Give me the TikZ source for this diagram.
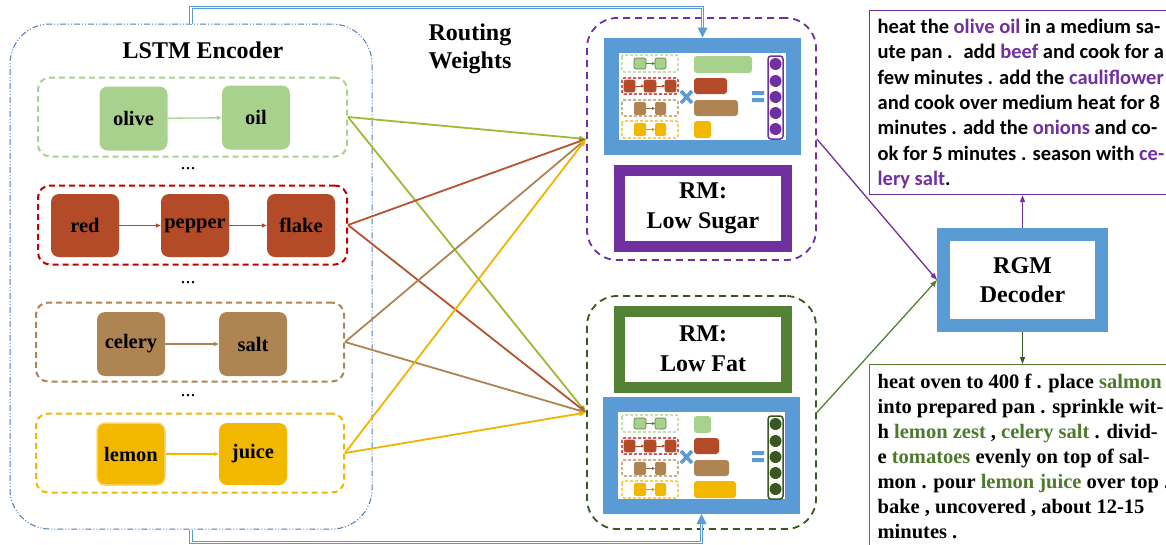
\documentclass[tikz,border=0pt]{standalone}
\usepackage{fontspec}
\setmainfont{Liberation Serif}
\newfontfamily\calibri{Carlito}
\usepackage{tikz}
\usetikzlibrary{arrows.meta,calc,positioning}

\definecolor{oilgreen}{HTML}{A9D18E}
\definecolor{pepperrust}{HTML}{B34B28}
\definecolor{pepperred}{HTML}{C00000}
\definecolor{celerytan}{HTML}{AE8453}
\definecolor{lemongold}{HTML}{F2B800}
\definecolor{linegreen}{HTML}{9DBA35}
\definecolor{linerust}{HTML}{B55230}
\definecolor{linegold}{HTML}{F0B400}
\definecolor{purp}{HTML}{7030A0}
\definecolor{fatgreen}{HTML}{548235}
\definecolor{darkgreen}{HTML}{385723}
\definecolor{txtgreen}{HTML}{4F7A2E}
\definecolor{rmblue}{HTML}{5B9BD5}
\definecolor{encblue}{HTML}{4E7AAE}

\tikzset{
  word/.style={rounded corners=8pt, minimum width=68, minimum height=64, inner sep=0,
    font=\fontsize{20.5}{24}\selectfont\bfseries},
  group/.style={draw, dash pattern=on 6pt off 4pt, line width=2, rounded corners=12pt,
    minimum width=309, minimum height=79},
  feed/.style={-{Triangle[length=5pt,width=4pt]}, line width=1.3},
  route/.style={-{Triangle[length=7pt,width=5pt]}, line width=1.8},
  module/.style={draw, dash pattern=on 7pt off 5pt, line width=1.8, rounded corners=30pt,
    minimum width=229},
  bluebox/.style={draw=rmblue, line width=15, fill=white, minimum width=182, minimum height=102},
  rmbox/.style={line width=11, fill=white, minimum width=167, minimum height=76, align=center,
    font=\fontsize{24}{30}\selectfont\bfseries},
  dbl/.style={draw=rmblue, double=white, double distance=1.5pt, line width=0.8},
  recipe/.style={draw, line width=1.3, anchor=north west, align=left, inner xsep=8, inner ysep=0},
  minirow/.style={dash pattern=on 3pt off 2pt, line width=1.2, rounded corners=2pt},
  miniword/.style={rounded corners=2pt, line width=0.6},
  minifeed/.style={-{Triangle[length=3pt,width=3pt]}, line width=0.9}
}

\newcommand{\mixpanel}[6]{%
  \begin{scope}[shift={#1}]
    \draw[minirow, oilgreen] (3,2) rectangle (59,19);
    \draw[minirow, pepperred] (3,25) rectangle (59,41);
    \draw[minirow, celerytan] (3,47) rectangle (59,63);
    \draw[minirow, lemongold] (3,68) rectangle (59,85);
    \filldraw[miniword, fill=oilgreen, draw=fatgreen] (15,5) rectangle (27,16) (36,5) rectangle (47,16);
    \draw[minifeed, fatgreen] (27,10.5) -- (36,10.5);
    \filldraw[miniword, fill=pepperrust, draw=pepperrust] (5,27) rectangle (16,39) (25,27) rectangle (37,39) (46,27) rectangle (57,39);
    \draw[minifeed, pepperrust] (16,33) -- (25,33);
    \draw[minifeed, pepperrust] (37,33) -- (46,33);
    \fill[miniword, celerytan] (15,49) rectangle (27,62) (36,49) rectangle (47,62);
    \draw[minifeed, celerytan!80!black] (27,55.5) -- (36,55.5);
    \fill[miniword, lemongold] (15,70) rectangle (27,83) (36,70) rectangle (47,83);
    \draw[minifeed, lemongold!85!black] (27,76.5) -- (36,76.5);
    \draw[rmblue, line width=3.5] (62,38) -- (73,50) (62,50) -- (73,38);
    \fill[rounded corners=3pt, oilgreen] (75,3) rectangle ++(#2,17);
    \fill[rounded corners=3pt, pepperrust] (75,25) rectangle ++(#3,16);
    \fill[rounded corners=3pt, celerytan] (75,47) rectangle ++(#4,16);
    \fill[rounded corners=3pt, lemongold] (75,68) rectangle ++(#5,17);
    \fill[rmblue] (133,38) rectangle (145,42) (133,45) rectangle (145,49);
    \draw[#6, line width=1.5, rounded corners=3pt] (149,3) rectangle (164,86);
    \foreach \yy in {11,28,44,60,76} \fill[#6] (156.5,\yy) circle (6pt);
  \end{scope}}

\begin{document}
\begin{tikzpicture}[x=1pt,y=-1pt]
  \useasboundingbox (0,0) rectangle (1166,544);
  \clip (0,0) rectangle (1166,544);

  \node[draw=encblue, line width=1, dash pattern=on 6pt off 2pt on 1pt off 2pt on 1pt off 2pt,
    rounded corners=40pt, minimum width=362, minimum height=505] (enc) at (191,276.5) {};
  \node[font=\fontsize{24}{28}\selectfont\bfseries] (enclabel) at (203,50) {LSTM Encoder};
  \node[align=center, font=\fontsize{24}{28}\selectfont\bfseries] (routelabel) at (470,49) {Routing\\Weights};

  \node[group, draw=oilgreen] (gOlive) at (192.5,117) {};
  \node[group, draw=pepperred] (gPepper) at (192.5,225) {};
  \node[group, draw=celerytan, minimum width=308] (gCelery) at (190,342) {};
  \node[group, draw=lemongold, minimum width=308] (gLemon) at (190,453) {};

  \node[word, fill=oilgreen] (olive) at (133.5,118.5) {olive};
  \node[word, fill=oilgreen] (oil) at (256,117.5) {oil};
  \node[word, fill=pepperrust, minimum height=63] (red) at (85,225.5) {red};
  \node[word, fill=pepperrust, minimum height=63] (pepper) at (195,225.5) {pepper};
  \node[word, fill=pepperrust, minimum height=63] (flake) at (301,225.5) {flake};
  \node[word, fill=celerytan] (celery) at (131,344) {celery};
  \node[word, fill=celerytan] (salt) at (253,344) {salt};
  \node[word, fill=lemongold, draw=lemongold!55, line width=1.5, minimum height=62] (lemon) at (131,454) {lemon};
  \node[word, fill=lemongold, minimum height=62] (juice) at (253,454) {juice};

  \draw[feed, oilgreen] (olive) -- (oil);
  \draw[feed, pepperrust] (red) -- (pepper);
  \draw[feed, pepperrust] (pepper) -- (flake);
  \draw[feed, celerytan] (celery) -- (salt);
  \draw[feed, lemongold] (lemon) -- (juice);

  \node[font=\fontsize{20}{24}\selectfont] (dotsA) at (188,169) {...};
  \node[font=\fontsize{20}{24}\selectfont] (dotsB) at (188,283) {...};
  \node[font=\fontsize{20}{24}\selectfont] (dotsC) at (188,396) {...};

  \node[module, draw=purp, minimum height=242] (sugar) at (701.5,139) {};
  \node[module, draw=darkgreen, minimum height=233] (fat) at (701.5,412.5) {};

  \node[bluebox] (mixS) at (702.5,96) {};
  \node[bluebox] (mixF) at (701.5,455.5) {};
  \mixpanel{(619,53)}{58}{33}{44}{17}{purp}
  \mixpanel{(619,413)}{17}{25}{35}{42}{darkgreen}

  \node[rmbox, draw=purp] (rmS) at (703,208) {RM:\\Low Sugar};
  \node[rmbox, draw=fatgreen] (rmF) at (703,349) {RM:\\Low Fat};

  \draw[dbl] (enc.north) -- ++(0,-16) -| ($(mixS.north)+(0,-9)$);
  \fill[rmblue] (mixS.north) -- ++(-5,-10) -- ++(10,0) -- cycle;
  \draw[dbl] (enc.south) -- ++(0,13) -| ($(mixF.south)+(0,9)$);
  \fill[rmblue] (mixF.south) -- ++(-5,10) -- ++(10,0) -- cycle;

  \foreach \g/\c in {gOlive/linegreen, gPepper/linerust, gCelery/celerytan, gLemon/linegold} {
    \draw[route, \c] (\g.east) -- (sugar.west);
    \draw[route, \c] (\g.east) -- (fat.west);
  }

  \node[draw=rmblue, line width=13, fill=white, minimum width=158, minimum height=91, align=center,
    font=\fontsize{24}{29}\selectfont\bfseries] (rgm) at (1022.5,280) {RGM\\Decoder};
  \draw[route, purp, line width=1.3] (sugar.east) -- (rgm.west);
  \draw[route, fatgreen, line width=1.3] (fat.east) -- (rgm.west);

  \node[recipe, draw=purp, font=\calibri\bfseries\fontsize{20.5}{25.3}\selectfont] (sugartext) at (869,10)
    {\rule{0pt}{23pt}heat the \textcolor{purp}{olive oil} in a medium sa-\\
     ute pan .~ add \textcolor{purp}{beef} and cook for a\\
     few minutes . add the \textcolor{purp}{cauliflower}\\
     and cook over medium heat for 8\\
     minutes . add the \textcolor{purp}{onions} and co-\\
     ok for 5 minutes . season with \textcolor{purp}{ce-}\\
     \textcolor{purp}{lery salt}.\rule[-9pt]{0pt}{0pt}};
  \node[recipe, draw=fatgreen, font=\bfseries\fontsize{20.5}{25}\selectfont] (fattext) at (869,364)
    {\rule{0pt}{24pt}heat oven to 400 f . place \textcolor{txtgreen}{salmon}\\
     into prepared pan . sprinkle wit-\\
     h \textcolor{txtgreen}{lemon zest} , \textcolor{txtgreen}{celery salt} . divid-\\
     e \textcolor{txtgreen}{tomatoes} evenly on top of sal-\\
     mon . pour \textcolor{txtgreen}{lemon juice} over top .\\
     bake , uncovered , about 12-15\\
     minutes .\rule[-30pt]{0pt}{0pt}};

  \draw[route, purp, line width=1.3] (rgm.north) -- (rgm.north |- sugartext.south);
  \draw[route, darkgreen, line width=1.3] (rgm.south) -- (rgm.south |- fattext.north);
\end{tikzpicture}
\end{document}
